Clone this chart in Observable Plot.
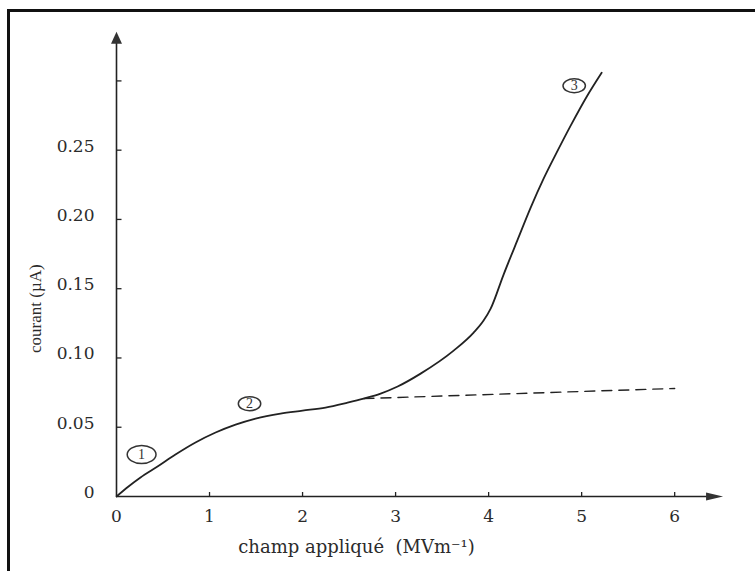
<!DOCTYPE html>
<html>
<head>
<meta charset="utf-8">
<script src="https://cdn.jsdelivr.net/npm/d3@7"></script>
<script src="https://cdn.jsdelivr.net/npm/@observablehq/plot@0.6"></script>
<style>
  html, body { margin: 0; padding: 0; background: #fff; }
  #wrap { position: relative; width: 755px; height: 571px; overflow: hidden; }
  #border { position: absolute; left: 7px; top: 9px; width: 800px; height: 700px;
            border-top: 3px solid #111; border-left: 3px solid #111; pointer-events: none; }
</style>
</head>
<body>
<div id="wrap"><div id="border"></div></div>
<script>
// ---- data ----
const xTicks = [0, 1, 2, 3, 4, 5, 6];
const xTickMarks = [1, 2, 3, 4, 5, 6];
const yTicks = [0, 0.05, 0.10, 0.15, 0.20, 0.25];
const yTickMarks = [0.05, 0.10, 0.15, 0.20, 0.25, 0.30];
const xAxisEnd = 6.52;
const yAxisEnd = 0.3355;

// measured curve: champ appliqué (MV/m) vs courant (µA)
const fieldX   = [0, 0.129, 0.258, 0.441, 0.634, 0.849, 1.065, 1.280, 1.495, 1.763, 2.0, 2.247, 2.484, 2.656, 2.839, 3.022, 3.269, 3.624, 3.839, 3.946, 4.022, 4.161, 4.312, 4.452, 4.591, 4.731, 4.882, 5.054, 5.215];
const currentY = [0, 0.0072, 0.0137, 0.0216, 0.0303, 0.0390, 0.0462, 0.0519, 0.0563, 0.0599, 0.0620, 0.0642, 0.0678, 0.0707, 0.0743, 0.0794, 0.0887, 0.1053, 0.1183, 0.1270, 0.1356, 0.1602, 0.1854, 0.2085, 0.2294, 0.2482, 0.2677, 0.2886, 0.3059];

// extrapolated (dashed) ohmic branch
const dashX = [2.66, 6.0];
const dashY = [0.0707, 0.078];

// circled region labels
const regionText = ["1", "2", "3"];
const regionX = [0.27, 1.43, 4.92];
const regionY = [0.0303, 0.067, 0.2965];

// axis titles
const xTitle = "champ appliqué  (MVm⁻¹)";
const xTitlePos = [2.58];
const yTitle = "courant (µA)";
const yTitlePos = [0.1356];

// ---- helpers ----
const curveData = fieldX.map((x, i) => ({x, y: currentY[i]}));
const dashData = dashX.map((x, i) => ({x, y: dashY[i]}));
const regions = regionText.map((t, i) => ({t, x: regionX[i], y: regionY[i]}));

const ellipse = (ratio) => ({
  draw(ctx, size) {
    const r = Math.sqrt(size / Math.PI), rx = r * ratio, ry = r, k = 0.5523;
    ctx.moveTo(rx, 0);
    ctx.bezierCurveTo(rx, ry * k, rx * k, ry, 0, ry);
    ctx.bezierCurveTo(-rx * k, ry, -rx, ry * k, -rx, 0);
    ctx.bezierCurveTo(-rx, -ry * k, -rx * k, -ry, 0, -ry);
    ctx.bezierCurveTo(rx * k, -ry, rx, -ry * k, rx, 0);
    ctx.closePath();
  }
});
const arrowUp = { draw(ctx) { ctx.moveTo(0, 0); ctx.lineTo(-5.5, 12); ctx.lineTo(5.5, 12); ctx.closePath(); } };
const arrowRight = { draw(ctx) { ctx.moveTo(0, 0); ctx.lineTo(-17, -4); ctx.lineTo(-17, 4); ctx.closePath(); } };
const tickUp = { draw(ctx) { ctx.moveTo(0, 0); ctx.lineTo(0, -4.5); } };
const tickRight = { draw(ctx) { ctx.moveTo(0, 0); ctx.lineTo(5, 0); } };

const ink = "#222";

const chart = Plot.plot({
  width: 755,
  height: 571,
  marginLeft: 116,
  marginRight: 25,
  marginTop: 25,
  marginBottom: 75,
  x: {domain: [0, 6.6]},
  y: {domain: [0, 0.34]},
  style: {fontFamily: "DejaVu Serif", fontSize: "17px", color: "#2b2b2b", background: "transparent", overflow: "visible"},
  marks: [
    // axis lines
    Plot.ruleY([0], {x1: 0, x2: xAxisEnd - 0.1, stroke: ink, strokeWidth: 1.6}),
    Plot.ruleX([0], {y1: 0, y2: yAxisEnd - 0.005, stroke: ink, strokeWidth: 1.6}),
    Plot.dot([{x: 0, y: yAxisEnd}], {x: "x", y: "y", symbol: arrowUp, fill: "#333", stroke: "none", r: 6}),
    Plot.dot([{x: xAxisEnd, y: 0}], {x: "x", y: "y", symbol: arrowRight, fill: "#333", stroke: "none", r: 6}),
    // tick marks
    Plot.dot(xTickMarks, {x: d => d, y: 0, symbol: tickUp, stroke: ink, strokeWidth: 1.3, r: 4}),
    Plot.dot(yTickMarks, {x: 0, y: d => d, symbol: tickRight, stroke: ink, strokeWidth: 1.3, r: 4}),
    // tick labels
    Plot.axisX({ticks: xTicks, tickSize: 0, tickPadding: 13, label: null, tickFormat: d => String(d), fontSize: 17}),
    Plot.axisY({ticks: yTicks, tickSize: 0, tickPadding: 22, label: null, dy: -4,
                tickFormat: d => d === 0 ? "0" : d.toFixed(2), fontSize: 17}),
    // axis titles
    Plot.text(xTitlePos, {x: d => d, y: 0, text: () => xTitle, dy: 51, fontSize: 18, textAnchor: "middle",
                          letterSpacing: "1px"}),
    Plot.text(yTitlePos, {x: 0, y: d => d, text: () => yTitle, dx: -81, rotate: -90, fontSize: 17,
                          fontFamily: "Liberation Serif", textAnchor: "middle"}),
    // dashed extrapolation
    Plot.line(dashData, {x: "x", y: "y", stroke: ink, strokeWidth: 1.4, strokeDasharray: "10,7"}),
    // main curve
    Plot.line(curveData, {x: "x", y: "y", curve: "monotone-x", stroke: ink, strokeWidth: 1.8}),
    // circled region labels
    Plot.dot(regions.slice(0, 1), {x: "x", y: "y", symbol: ellipse(1.6), r: 9, stroke: "#333", strokeWidth: 1.5, fill: "none"}),
    Plot.dot(regions.slice(1), {x: "x", y: "y", symbol: ellipse(1.6), r: 7, stroke: "#333", strokeWidth: 1.5, fill: "none"}),
    Plot.text(regions, {x: "x", y: "y", text: "t", fontSize: 14, fontFamily: "Liberation Serif", fill: "#333"})
  ]
});
document.getElementById("wrap").prepend(chart);
</script>
</body>
</html>
